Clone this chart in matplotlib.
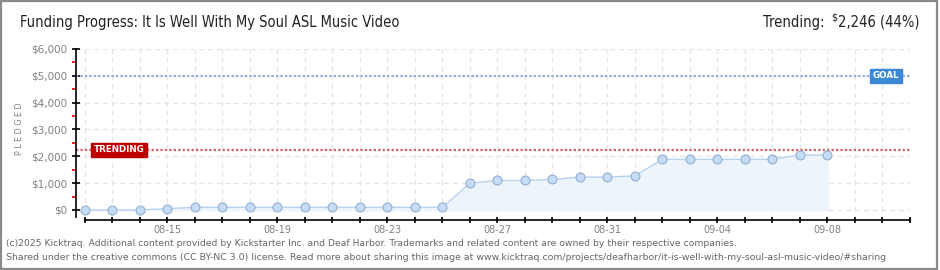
import matplotlib
matplotlib.use("Agg")
import matplotlib.pyplot as plt
import matplotlib.dates as mdates
from matplotlib.patches import Rectangle
from matplotlib.ticker import MultipleLocator, FuncFormatter, FixedLocator
import datetime as dt

# ---- data ----
dates = ["2025-08-12", "2025-08-13", "2025-08-14", "2025-08-15", "2025-08-16",
         "2025-08-17", "2025-08-18", "2025-08-19", "2025-08-20", "2025-08-21",
         "2025-08-22", "2025-08-23", "2025-08-24", "2025-08-25", "2025-08-26",
         "2025-08-27", "2025-08-28", "2025-08-29", "2025-08-30", "2025-08-31",
         "2025-09-01", "2025-09-02", "2025-09-03", "2025-09-04", "2025-09-05",
         "2025-09-06", "2025-09-07", "2025-09-08"]
pledged = [0, 0, 0, 50, 100, 100, 100, 100, 100, 100, 100, 100, 100, 100,
           1000, 1100, 1100, 1140, 1225, 1225, 1275, 1887, 1887, 1887, 1887,
           1887, 2050, 2050]
tick_dates = ["2025-08-15", "2025-08-19", "2025-08-23", "2025-08-27",
              "2025-08-31", "2025-09-04", "2025-09-08"]
goal = 5000
trending = 2246
trending_pct = 44
x_start = "2025-08-12"
x_end = "2025-09-11"
title = "Funding Progress: It Is Well With My Soul ASL Music Video"
footer1 = ("(c)2025 Kicktraq. Additional content provided by Kickstarter Inc. and Deaf Harbor. "
           "Trademarks and related content are owned by their respective companies.")
footer2 = ("Shared under the creative commons (CC BY-NC 3.0) license. Read more about sharing this "
           "image at www.kicktraq.com/projects/deafharbor/it-is-well-with-my-soul-asl-music-video/#sharing")

W, H = 940, 270
fig = plt.figure(figsize=(W / 100, H / 100), dpi=100)
fig.patch.set_facecolor("white")

def fx(px):
    return px / W

def fy(py):
    return 1 - py / H

def dnum(s):
    return mdates.date2num(dt.datetime.strptime(s, "%Y-%m-%d"))

ax = fig.add_axes([fx(76), fy(220), fx(910) - fx(76), fy(49) - fy(220)])
ax.set_facecolor("white")

xd = [dnum(d) for d in dates]
x0 = dnum(x_start)
x1 = dnum(x_end)

ax.set_xlim(x0 - 0.327, x1)
ax.set_ylim(-373, 6000)

ax.xaxis.set_major_locator(FixedLocator([dnum(d) for d in tick_dates]))
ax.xaxis.set_minor_locator(mdates.DayLocator())
ax.xaxis.set_major_formatter(mdates.DateFormatter("%m-%d"))
ax.yaxis.set_major_locator(MultipleLocator(1000))
ax.yaxis.set_minor_locator(MultipleLocator(500))
ax.yaxis.set_major_formatter(FuncFormatter(lambda v, p: f"${int(v):,}"))
gstyle = dict(color="#e4e4e4", linestyle=(0, (4, 3)), linewidth=0.9)
ax.grid(which="minor", axis="x", **gstyle)
ax.grid(which="major", axis="x", **gstyle)
ax.grid(which="major", axis="y", **gstyle)
ax.set_axisbelow(True)

for s in ["top", "right"]:
    ax.spines[s].set_visible(False)
ax.spines["left"].set_bounds(-260, 6000)
ax.spines["bottom"].set_bounds(x0, x1)
ax.spines["left"].set_linewidth(1.2)
ax.spines["bottom"].set_linewidth(1.2)

ax.tick_params(axis="y", which="major", direction="inout", length=6, width=1.2,
               color="black", labelcolor="#808080", labelsize=7.5, pad=3)
ax.tick_params(axis="y", which="minor", direction="out", length=3, width=1.2,
               color="#e00000")
ax.tick_params(axis="x", which="both", direction="inout", length=5, width=1.2,
               color="black", labelcolor="#808080", labelsize=7, pad=1)

# fill + line + markers
ax.fill_between(xd, 0, pledged, color="#edf4fc", zorder=1)
ax.plot(xd, pledged, color="#b7d3f1", linewidth=1.0, zorder=3,
        marker="o", markersize=6.4, markerfacecolor="#c4dcf6",
        markeredgecolor="#93aed0", markeredgewidth=0.8)

# goal and trending lines
ax.axhline(goal, color="#8db0da", linewidth=1.6, linestyle=(0, (1, 1)), zorder=2)
ax.axhline(trending, color="#d36060", linewidth=1.6, linestyle=(0, (1, 1)), zorder=2)

# labels on lines
ax.text(0.0215, trending, "TRENDING", transform=ax.get_yaxis_transform(),
        ha="left", va="center", fontsize=6.3, color="white", fontweight="bold",
        bbox=dict(boxstyle="square,pad=0.28", fc="#bf0000", ec="#bf0000"), zorder=5)
ax.text(0.955, goal, "GOAL", transform=ax.get_yaxis_transform(),
        ha="left", va="center", fontsize=6.3, color="white", fontweight="bold",
        bbox=dict(boxstyle="square,pad=0.28", fc="#3b88d6", ec="#3b88d6"), zorder=5)

# y label
fig.text(fx(20), fy(129), "P L E D G E D", rotation=90, ha="center", va="center",
         fontsize=5.8, color="#808080")

# title
fig.text(fx(20), fy(22), title, ha="left", va="center", fontsize=10.5,
         color="#222222", fontstretch="condensed")

# trending header
t_num = fig.text(fx(919), fy(22), f"2,246 ({trending_pct}%)", ha="right", va="center",
                 fontsize=10.5, color="#222222", fontstretch="condensed")
fig.canvas.draw()
r = fig.canvas.get_renderer()
bb = t_num.get_window_extent(r)
t_dol = fig.text(bb.x0 / W - 0.0005, fy(18), "$", ha="right", va="center",
                 fontsize=7, color="#222222")
bb2 = t_dol.get_window_extent(r)
fig.text(bb2.x0 / W - fx(6), fy(22), "Trending:", ha="right", va="center",
         fontsize=10.5, color="#222222", fontstretch="condensed")

# footer
fig.text(fx(6), fy(243), footer1, ha="left", va="center", fontsize=6.7, color="#666666")
fig.text(fx(6), fy(257), footer2, ha="left", va="center", fontsize=6.75, color="#666666")

# frame
fig.patches.append(Rectangle((0.001, 0.002), 0.9955, 0.994, transform=fig.transFigure,
                             fill=False, edgecolor="#8a8a8a", linewidth=1.6))

fig.savefig("out.png", dpi=100, facecolor="white")
